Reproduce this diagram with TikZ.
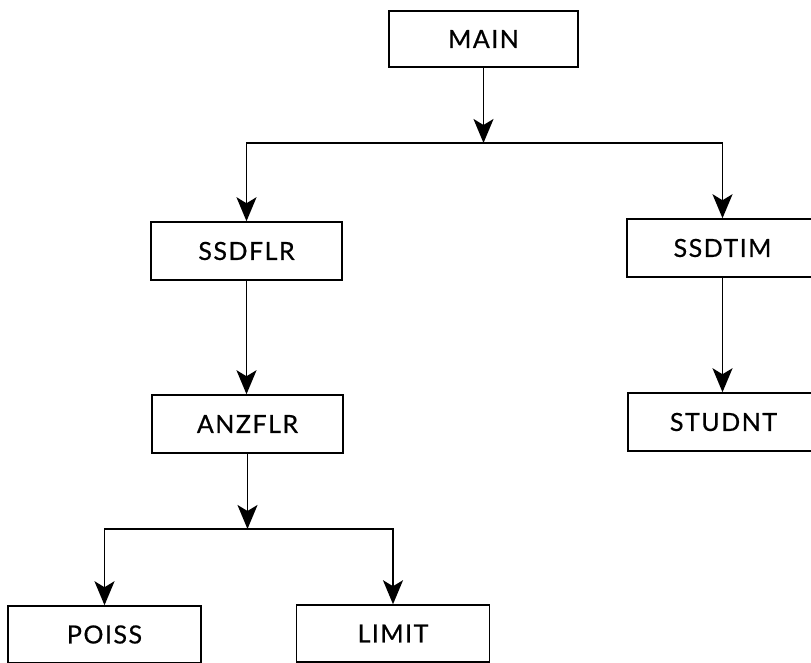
\documentclass[tikz,border=0pt]{standalone}
\usepackage{fontspec}
\setmainfont{Lato}[LetterSpace=6,FakeBold=0.6]
\usetikzlibrary{arrows.meta}
\begin{document}
\begin{tikzpicture}[x=1pt,y=-1pt,
  modbox/.style={draw, line width=1.5pt, minimum width=191pt, minimum height=57pt,
    inner sep=0pt, font=\fontsize{25}{28}\selectfont},
  arr/.style={line width=1.8pt, -{Stealth[length=24pt,width=20pt,inset=6pt]}}]
\useasboundingbox (0,0) rectangle (811,663);
\clip (0,0) rectangle (811,663);
% call tree of the program
\node[modbox, minimum width=189pt, minimum height=56pt] (main) at (483.5,39) {MAIN};
\node[modbox, minimum height=58pt] (ssdflr) at (246.5,251) {SSDFLR};
\node[modbox, minimum height=58pt] (ssdtim) at (722.5,248) {SSDTIM};
\node[modbox, minimum height=58pt] (anzflr) at (247.5,424) {ANZFLR};
\node[modbox, minimum height=58pt] (studnt) at (723.5,422) {STUDNT};
\node[modbox, minimum width=193pt] (poiss) at (104.5,634.5) {POISS};
\node[modbox, minimum width=193pt] (limit) at (393,633.5) {LIMIT};
% branch points
\coordinate (j1) at (483.5,143);
\coordinate (j2) at (247.5,529);
\draw[arr] (main.south) -- (j1);
\draw[arr] (j1) -| (ssdflr.north);
\draw[arr] (j1) -| (ssdtim.north);
\draw[arr] (ssdflr.south) -- (ssdflr.south |- anzflr.north);
\draw[arr] (ssdtim.south) -- (ssdtim.south |- studnt.north);
\draw[arr] (anzflr.south) -- (j2);
\draw[arr] (j2) -| (poiss.north);
\draw[arr] (j2) -| (limit.north);
\end{tikzpicture}
\end{document}
